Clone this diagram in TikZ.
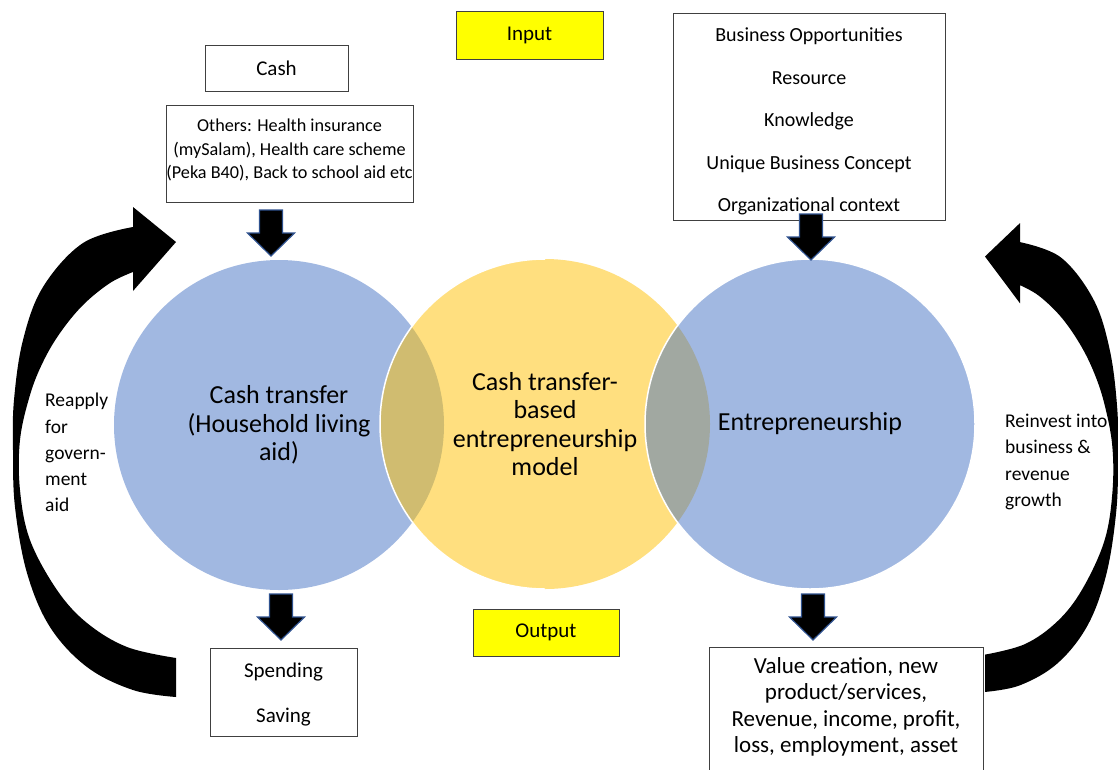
\documentclass[tikz,border=0pt]{standalone}
\usepackage{fontspec}
\setmainfont{Carlito}
\definecolor{vblue}{HTML}{4472C4}
\definecolor{vyellow}{HTML}{FFC000}
\definecolor{boxgray}{HTML}{404040}
\definecolor{inyellow}{HTML}{FFFF00}
\definecolor{arrowblue}{HTML}{2F528F}
\tikzset{
  downarrow/.pic={\filldraw[fill=black, draw=arrowblue, line width=1.2pt]
    (-11.5,0) -- (11.5,0) -- (11.5,23) -- (23.5,23) -- (0,46) -- (-23.5,23) -- (-11.5,23) -- cycle;},
  curvedarrow/.pic={\fill[black]
    plot[smooth, tension=0.6] coordinates {(176,697) (133,690) (87,667) (50,627) (27,573) (15,507) (13,450) (14,400) (23,340) (43,287) (83,243) (133,227)}
    -- (133,207) -- (176,242) -- (133,291) -- (133,272)
    -- plot[smooth, tension=0.6] coordinates {(133,272) (110,283) (83,305) (60,333) (43,362) (30,395) (20,440) (20,490) (30,540) (57,590) (87,623) (127,647) (176,658)}
    -- cycle;}
}
\begin{document}
\begin{tikzpicture}[x=1pt,y=-1pt,
  box/.style={draw=boxgray, line width=1pt, fill=white, inner sep=0pt, font=\fontsize{21}{25}\selectfont},
  ybox/.style={box, fill=inyellow},
  venn/.style={circle, minimum size=330pt, inner sep=0pt, draw=none, fill opacity=0.5, text opacity=1, align=center, font=\fontsize{26}{28.3}\selectfont},
  lbl/.style={inner sep=0pt, align=center}
]
\useasboundingbox (0,0) rectangle (1118,769);

% curved arrows
\pic (larrow) at (0,0) {curvedarrow};
\pic (rarrow) [xscale=-0.816, yscale=0.957] at (1128.6,24.9) {curvedarrow};

% venn circles
\node[venn, fill=vblue] (ct) at (279,425) {Cash transfer\\(Household living\\aid)};
\node[venn, fill=vyellow] (model) at (545,424) {Cash transfer-\\based\\entrepreneurship\\model};
\node[venn, fill=vblue] (ent) at (810,424) {Entrepreneurship};
\begin{scope}
  \clip (0,0) rectangle (545,769);
  \draw[white, line width=1.5pt] (model.center) circle[radius=165];
\end{scope}
\draw[white, line width=1.5pt] (ent.center) circle[radius=165];

% boxes
\node[ybox, minimum width=147pt, minimum height=48pt] (input) at (529.5,35) {Input};
\node[ybox, minimum width=146pt, minimum height=47pt] (output) at (546,632.5) {Output};
\node[box, minimum width=143pt, minimum height=46pt] (cash) at (276.5,68) {Cash};
\node[box, minimum width=247pt, minimum height=97pt] (others) at (289.5,153.5) {};
\node[lbl, font=\fontsize{18.2}{23.5}\selectfont] (otherstext) at (289.5,150) {Others: Health insurance\\(mySalam), Health care scheme\\(Peka B40), Back to school aid etc};
\node[box, minimum width=272pt, minimum height=207pt] (biz) at (809,116.5) {};
\node[lbl, font=\fontsize{20}{42.5}\selectfont] (biztext) at (809,121.5) {Business Opportunities\\Resource\\Knowledge\\Unique Business Concept\\Organizational context};
\node[box, minimum width=147pt, minimum height=88pt] (spend) at (283.5,692) {};
\node[lbl, font=\fontsize{21}{45}\selectfont] (spendtext) at (283.5,694.5) {Spending\\Saving};
\node[box, minimum width=274pt, minimum height=150pt, anchor=north] (value) at (846,647) {};
\node[lbl, font=\fontsize{23}{26.3}\selectfont] (valuetext) at (846,707) {Value creation, new\\product/services,\\Revenue, income, profit,\\loss, employment, asset};

% block arrows
\coordinate (a1) at (271,210);
\coordinate (a2) at (811,214);
\coordinate (a3) at (281,594);
\coordinate (a4) at (813,594);
\pic at (a1) {downarrow};
\pic at (a2) {downarrow};
\pic at (a3) {downarrow};
\pic at (a4) {downarrow};

% side labels
\node[lbl, align=left, anchor=west, font=\fontsize{19.5}{26.2}\selectfont] (reapply) at (45,452.5) {Reapply\\for\\govern-\\ment\\aid};
\node[lbl, align=left, anchor=west, font=\fontsize{19.5}{26.4}\selectfont] (reinvest) at (1005,462) {Reinvest into\\business \&\\revenue\\growth};
\end{tikzpicture}
\end{document}
